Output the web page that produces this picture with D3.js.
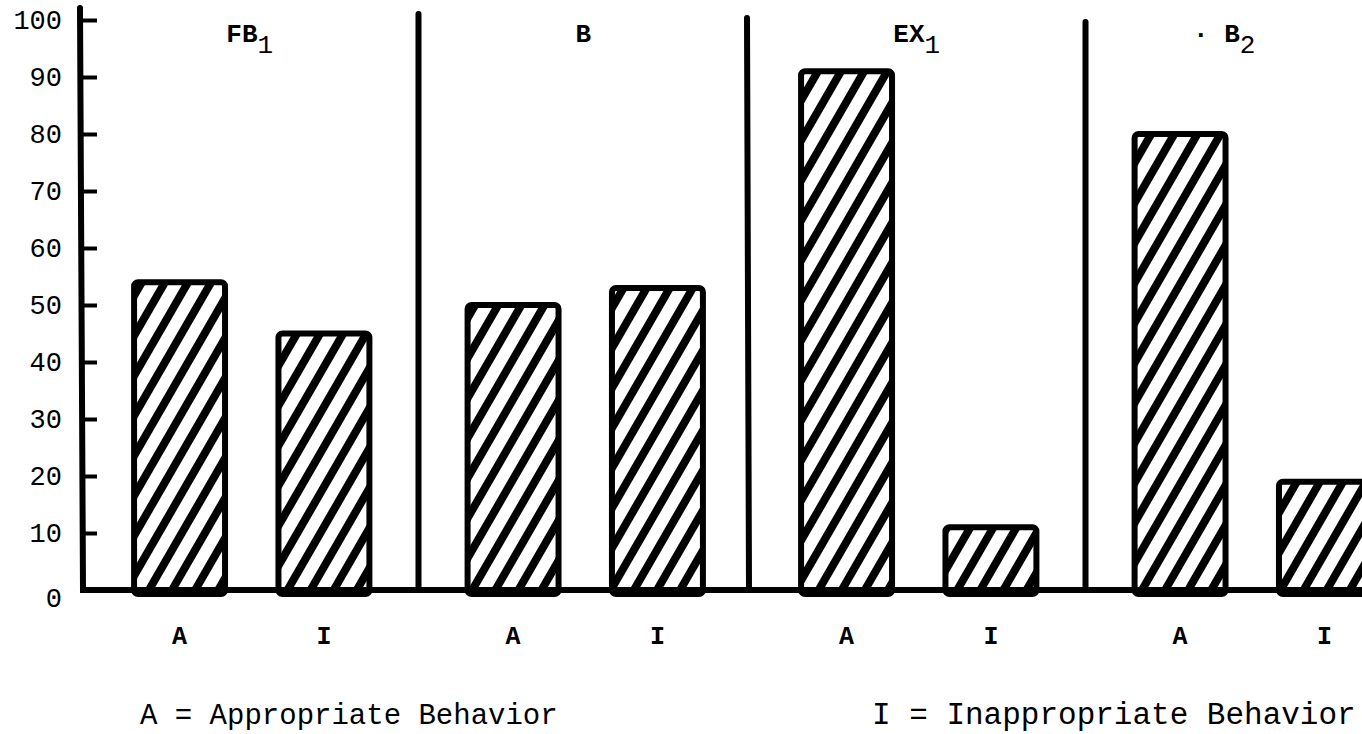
<!doctype html>
<html lang="en">

<head>
    <meta charset="UTF-8" />
    <script src="https://d3js.org/d3.v7.min.js"></script>
    <title>Appropriate vs Inappropriate Behavior</title>
    <style>
        body { margin: 0; background: #fff; }
        text { font-family: "Liberation Mono", "DejaVu Sans Mono", monospace; fill: #000; }
    </style>
</head>

<body>
    <div id="chart"></div>
    <script type="module">
        // Data (percent of intervals)
        const phases = ["FB", "B", "EX", "B"]
        const phaseSubs = ["1", "", "1", "2"]
        const behaviors = ["A", "I"]
        const appropriate = [54, 50, 91, 80]
        const inappropriate = [45, 53, 11, 19]
        const yTicks = [0, 10, 20, 30, 40, 50, 60, 70, 80, 90, 100]

        const W = 1362, H = 734
        const base = 590

        const svg = d3.select("#chart").append("svg")
            .attr("width", W)
            .attr("height", H)

        // hatch pattern
        svg.append("defs").append("pattern")
            .attr("id", "hatch")
            .attr("patternUnits", "userSpaceOnUse")
            .attr("width", 20)
            .attr("height", 20)
            .attr("patternTransform", "rotate(30)")
            .call(p => {
                p.append("rect").attr("width", 20).attr("height", 20).attr("fill", "#fff")
                p.append("rect").attr("x", 0).attr("width", 8).attr("height", 20).attr("fill", "#000")
            })

        const y = d3.scaleLinear().domain([0, 100]).range([base, 20])
        const xGroup = d3.scaleBand().domain(d3.range(phases.length)).range([85, 1419])
        const xInner = d3.scaleBand().domain(behaviors).range([0, xGroup.bandwidth()])
            .paddingInner(0.37).paddingOuter(0.34)

        const bars = []
        phases.forEach((p, i) => {
            bars.push({ g: i, b: "A", v: appropriate[i] })
            bars.push({ g: i, b: "I", v: inappropriate[i] })
        })

        // bars
        svg.append("g").selectAll("rect")
            .data(bars)
            .join("rect")
            .attr("x", d => xGroup(d.g) + xInner(d.b))
            .attr("y", d => y(d.v))
            .attr("width", xInner.bandwidth())
            .attr("height", d => base - y(d.v) + 4)
            .attr("rx", 4)
            .attr("fill", "url(#hatch)")
            .attr("stroke", "#000")
            .attr("stroke-width", 6)

        // phase dividers
        svg.append("g").selectAll("line")
            .data(d3.range(1, phases.length))
            .join("line")
            .attr("x1", d => xGroup(d) - (d === 2 ? 5 : 0))
            .attr("x2", d => xGroup(d) - (d === 2 ? 3 : 0))
            .attr("y1", d => 10 + d * 4)
            .attr("y2", base)
            .attr("stroke", "#000")
            .attr("stroke-width", 6)
            .attr("stroke-linecap", "round")

        // phase labels
        const pl = svg.append("g").selectAll("text")
            .data(phases)
            .join("text")
            .attr("x", (d, i) => xGroup(i) + xGroup.bandwidth() / 2 - (i === 3 ? 28 : 2))
            .attr("y", 42)
            .attr("text-anchor", "middle")
            .attr("font-size", 26)
            .attr("font-weight", "bold")
        pl.append("tspan").text((d, i) => i === 3 ? "\u00b7  " + d : d)
        pl.append("tspan").attr("dy", 11).attr("font-weight", "normal").text((d, i) => phaseSubs[i])

        // y axis
        const yAxis = svg.append("g")
            .attr("transform", "translate(82,0)")
            .call(d3.axisLeft(y).tickValues(yTicks).tickSizeInner(-15).tickSizeOuter(0).tickPadding(20))
        yAxis.select(".domain").remove()
        yAxis.selectAll(".tick line").attr("stroke", "#000").attr("stroke-width", 4)
        yAxis.selectAll(".tick text")
            .attr("font-size", 27)
            .attr("font-family", "Liberation Mono, monospace")
            .attr("dy", (d) => d === 0 ? "0.6em" : "0.32em")
        svg.append("line")
            .attr("x1", 80).attr("x2", 83)
            .attr("y1", 8).attr("y2", base)
            .attr("stroke", "#000").attr("stroke-width", 6)
            .attr("stroke-linecap", "round")

        // baseline
        svg.append("line")
            .attr("x1", 80).attr("x2", W)
            .attr("y1", base).attr("y2", base)
            .attr("stroke", "#000").attr("stroke-width", 6)

        // A / I labels
        svg.append("g").selectAll("text")
            .data(bars)
            .join("text")
            .attr("x", d => xGroup(d.g) + xInner(d.b) + xInner.bandwidth() / 2)
            .attr("y", 644)
            .attr("text-anchor", "middle")
            .attr("font-size", 25)
            .attr("font-weight", "bold")
            .text(d => d.b)

        // legend
        svg.append("text")
            .attr("x", 140).attr("y", 724)
            .attr("font-size", 29)
            .text("A = Appropriate Behavior")
        svg.append("text")
            .attr("x", 872).attr("y", 724)
            .attr("font-size", 31)
            .text("I = Inappropriate Behavior")
    </script>
</body>

</html>
